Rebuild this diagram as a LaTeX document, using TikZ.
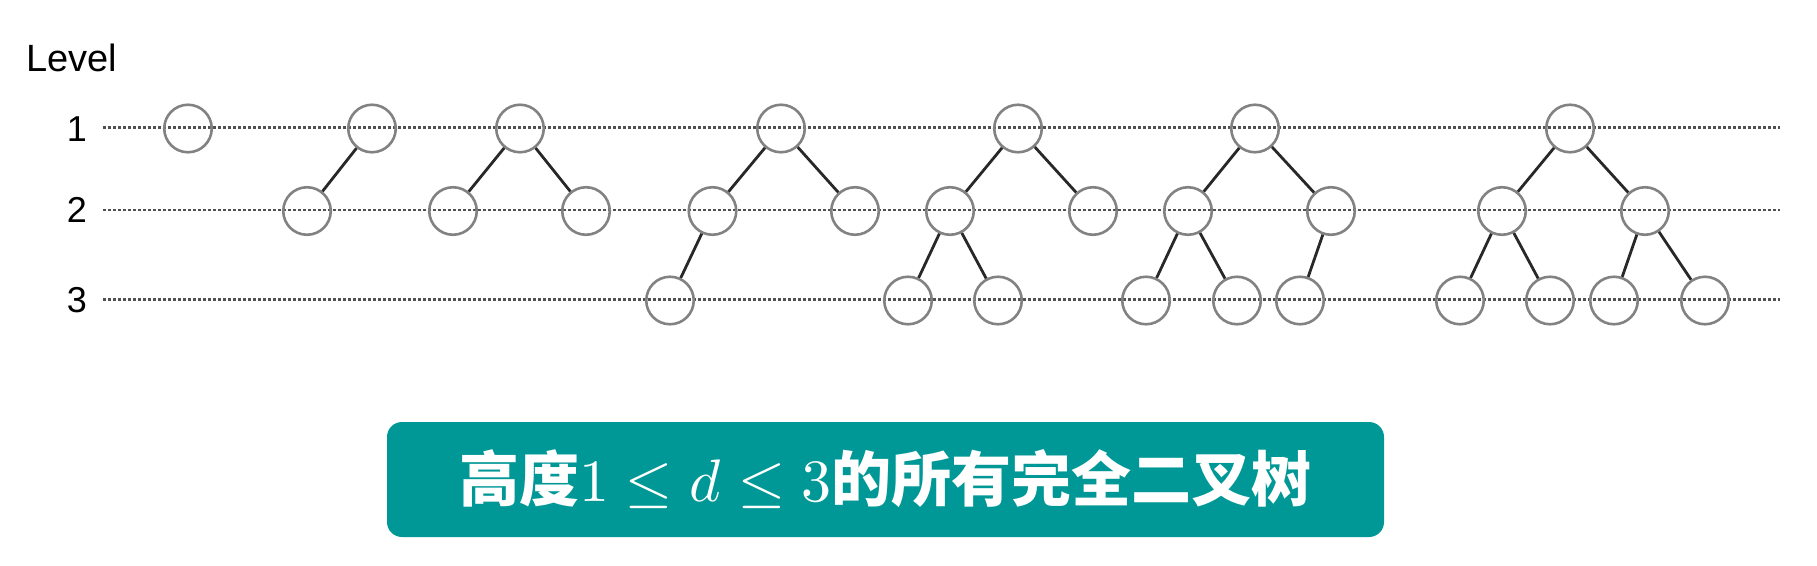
\documentclass[tikz,border=0pt]{standalone}
\usepackage{fontspec}
\usepackage{unicode-math}
\newfontfamily\lab{Liberation Sans}
\newfontfamily\cjk{Noto Sans CJK SC}
\definecolor{boxteal}{RGB}{0,152,150}
\definecolor{circgray}{RGB}{130,130,130}
\definecolor{edgegray}{RGB}{40,40,40}
\definecolor{dotgray}{RGB}{80,80,80}
\begin{document}
\begin{tikzpicture}[x=1pt,y=-1pt,
  nd/.style={circle,draw=circgray,line width=2.6pt,minimum size=47.5pt,inner sep=0pt},
  ed/.style={draw=edgegray,line width=2.8pt},
  lvl/.style={draw=dotgray,line width=2.4pt,dash pattern=on 3pt off 2pt},
  lbl/.style={font=\lab\fontsize{36}{40}\selectfont,text=black,inner sep=0pt},
  titlebox/.style={fill=boxteal,rounded corners=15pt,minimum width=997pt,minimum height=115pt,inner sep=0pt,text=white,font=\fontsize{60}{70}\selectfont}]
\useasboundingbox (0,0) rectangle (1817,565);
% level labels
\node[lbl] (lev) at (72,57.5) {\fontsize{38}{42}\selectfont Level};
\node[lbl] (n1) at (77,129) {1};
\node[lbl] (n2) at (77,210) {2};
\node[lbl] (n3) at (77,300) {3};
% dotted level lines
\coordinate (l1s) at (103,127.5); \coordinate (l1e) at (1780,127.5);
\coordinate (l2s) at (103,210);   \coordinate (l2e) at (1780,210);
\coordinate (l3s) at (103,299.5); \coordinate (l3e) at (1780,299.5);
\draw[lvl] (l1s) -- (l1e);
\draw[lvl] (l2s) -- (l2e);
\draw[lvl] (l3s) -- (l3e);
% tree 1
\node[nd] (t1a) at (188,128.5) {};
% tree 2
\node[nd] (t2a) at (372,128.5) {};
\node[nd] (t2b) at (307,211) {};
% tree 3
\node[nd] (t3a) at (520,128.5) {};
\node[nd] (t3b) at (453,211) {};
\node[nd] (t3c) at (586,211) {};
% tree 4
\node[nd] (t4a) at (781,128.5) {};
\node[nd] (t4b) at (712.5,211) {};
\node[nd] (t4c) at (855,211) {};
\node[nd] (t4d) at (670,300.5) {};
% tree 5
\node[nd] (t5a) at (1018,128.5) {};
\node[nd] (t5b) at (950,211) {};
\node[nd] (t5c) at (1093,211) {};
\node[nd] (t5d) at (908,300.5) {};
\node[nd] (t5e) at (998,300.5) {};
% tree 6
\node[nd] (t6a) at (1255,128.5) {};
\node[nd] (t6b) at (1188,211) {};
\node[nd] (t6c) at (1331,211) {};
\node[nd] (t6d) at (1146,300.5) {};
\node[nd] (t6e) at (1237,300.5) {};
\node[nd] (t6f) at (1300,300.5) {};
% tree 7
\node[nd] (t7a) at (1570,128.5) {};
\node[nd] (t7b) at (1502,211) {};
\node[nd] (t7c) at (1645,211) {};
\node[nd] (t7d) at (1460,300.5) {};
\node[nd] (t7e) at (1550,300.5) {};
\node[nd] (t7f) at (1614,300.5) {};
\node[nd] (t7g) at (1705,300.5) {};
% edges
\draw[ed] (t2a) -- (t2b);
\draw[ed] (t3a) -- (t3b);
\draw[ed] (t3a) -- (t3c);
\draw[ed] (t4a) -- (t4b);
\draw[ed] (t4a) -- (t4c);
\draw[ed] (t4b) -- (t4d);
\draw[ed] (t5a) -- (t5b);
\draw[ed] (t5a) -- (t5c);
\draw[ed] (t5b) -- (t5d);
\draw[ed] (t5b) -- (t5e);
\draw[ed] (t6a) -- (t6b);
\draw[ed] (t6a) -- (t6c);
\draw[ed] (t6b) -- (t6d);
\draw[ed] (t6b) -- (t6e);
\draw[ed] (t6c) -- (t6f);
\draw[ed] (t7a) -- (t7b);
\draw[ed] (t7a) -- (t7c);
\draw[ed] (t7b) -- (t7d);
\draw[ed] (t7b) -- (t7e);
\draw[ed] (t7c) -- (t7f);
\draw[ed] (t7c) -- (t7g);
% title
\node[titlebox] (title) at (885.5,479.5) {{\cjk\bfseries 高度}$1\leq d\leq 3${\cjk\bfseries 的所有完全二叉树}};
\end{tikzpicture}
\end{document}
